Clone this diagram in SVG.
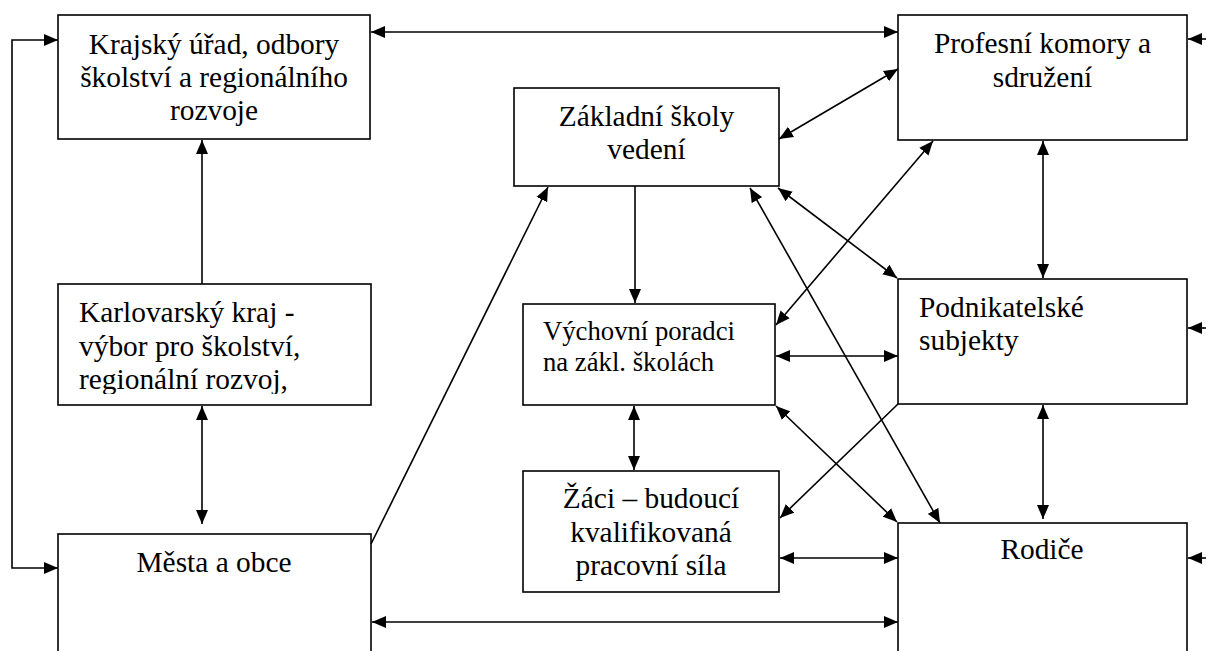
<svg xmlns="http://www.w3.org/2000/svg" width="1206" height="651" viewBox="0 0 1206 651">
<style>
.box{fill:#fff;stroke:#000;stroke-width:1.6}
.t{font-family:'Liberation Serif','Times New Roman',serif;font-size:29.4px;fill:#000}
.c{text-anchor:middle}
.s{font-size:26.7px}
.ln{fill:none;stroke:#000;stroke-width:1.6}
.a2{marker-start:url(#ah);marker-end:url(#ah)}
.a1{marker-end:url(#ah)}
</style>
<defs>
<marker id="ah" markerUnits="userSpaceOnUse" markerWidth="15" markerHeight="13" refX="14" refY="6.5" orient="auto-start-reverse" viewBox="0 0 15 13">
<path d="M0,0.5 L14,6.5 L0,12.5 z" fill="#000"/>
</marker>
<clipPath id="kclip"><rect x="58" y="284" width="313" height="110"/></clipPath>
</defs>
<rect width="1206" height="651" fill="#fff"/>
<g id="krajsky-urad">
<rect class="box" x="58" y="15" width="312" height="124"/>
<text class="t c" x="214" y="54">Krajský úřad, odbory</text>
<text class="t c" x="214" y="87">školství a regionálního</text>
<text class="t c" x="214" y="120">rozvoje</text>
</g>
<g id="profesni-komory">
<rect class="box" x="898" y="15" width="289" height="125"/>
<text class="t c" x="1042.5" y="53">Profesní komory a</text>
<text class="t c" x="1042.5" y="87">sdružení</text>
</g>
<g id="zakladni-skoly">
<rect class="box" x="514" y="88" width="265" height="98"/>
<text class="t c" x="646.5" y="126">Základní školy</text>
<text class="t c" x="646.5" y="159">vedení</text>
</g>
<g id="karlovarsky-kraj">
<rect class="box" x="58" y="284" width="313" height="121"/>
<g clip-path="url(#kclip)">
<text class="t" x="79" y="322">Karlovarský kraj -</text>
<text class="t" x="79" y="356">výbor pro školství,</text>
<text class="t" x="79" y="389">regionální rozvoj,</text>
</g>
</g>
<g id="vychovni-poradci">
<rect class="box" x="523" y="304" width="252" height="101"/>
<text class="t s" x="543" y="340">Výchovní poradci</text>
<text class="t s" x="543" y="371">na zákl. školách</text>
</g>
<g id="podnikatelske-subjekty">
<rect class="box" x="898" y="279" width="289" height="125"/>
<text class="t" x="919" y="317">Podnikatelské</text>
<text class="t" x="919" y="350">subjekty</text>
</g>
<g id="zaci">
<rect class="box" x="523" y="471" width="256" height="121"/>
<text class="t c" x="651" y="508">Žáci – budoucí</text>
<text class="t c" x="651" y="542">kvalifikovaná</text>
<text class="t c" x="651" y="575">pracovní síla</text>
</g>
<g id="mesta-a-obce">
<rect class="box" x="58" y="534" width="313" height="130"/>
<text class="t c" x="214" y="572">Města a obce</text>
</g>
<g id="rodice">
<rect class="box" x="898" y="523" width="289" height="141"/>
<text class="t c" x="1042" y="559">Rodiče</text>
</g>
<g id="connectors">
<path class="ln a2" d="M58,40 H12 V568 H58"/>
<line class="ln a2" x1="371" y1="32" x2="898" y2="32"/>
<line class="ln a1" x1="1206" y1="39" x2="1188" y2="39"/>
<line class="ln a1" x1="1206" y1="328" x2="1188" y2="328"/>
<line class="ln a1" x1="1206" y1="558" x2="1188" y2="558"/>
<line class="ln a1" x1="202" y1="284" x2="202" y2="140"/>
<line class="ln a2" x1="202" y1="406" x2="202" y2="524"/>
<line class="ln a1" x1="371" y1="544" x2="548" y2="187"/>
<line class="ln a1" x1="635" y1="186" x2="635" y2="303"/>
<line class="ln a2" x1="779" y1="139" x2="898" y2="69"/>
<line class="ln a2" x1="933" y1="141" x2="776" y2="325"/>
<line class="ln a2" x1="778" y1="188" x2="897" y2="278"/>
<line class="ln a2" x1="750" y1="188" x2="940" y2="523"/>
<line class="ln a2" x1="776" y1="356" x2="898" y2="356"/>
<line class="ln a2" x1="776" y1="406" x2="897" y2="522"/>
<line class="ln a1" x1="898" y1="404" x2="780" y2="518"/>
<line class="ln a2" x1="634" y1="406" x2="634" y2="470"/>
<line class="ln a2" x1="780" y1="558" x2="898" y2="558"/>
<line class="ln a2" x1="372" y1="622" x2="898" y2="622"/>
<line class="ln a2" x1="1043" y1="141" x2="1043" y2="278"/>
<line class="ln a2" x1="1043" y1="405" x2="1043" y2="519"/>
</g>
</svg>
